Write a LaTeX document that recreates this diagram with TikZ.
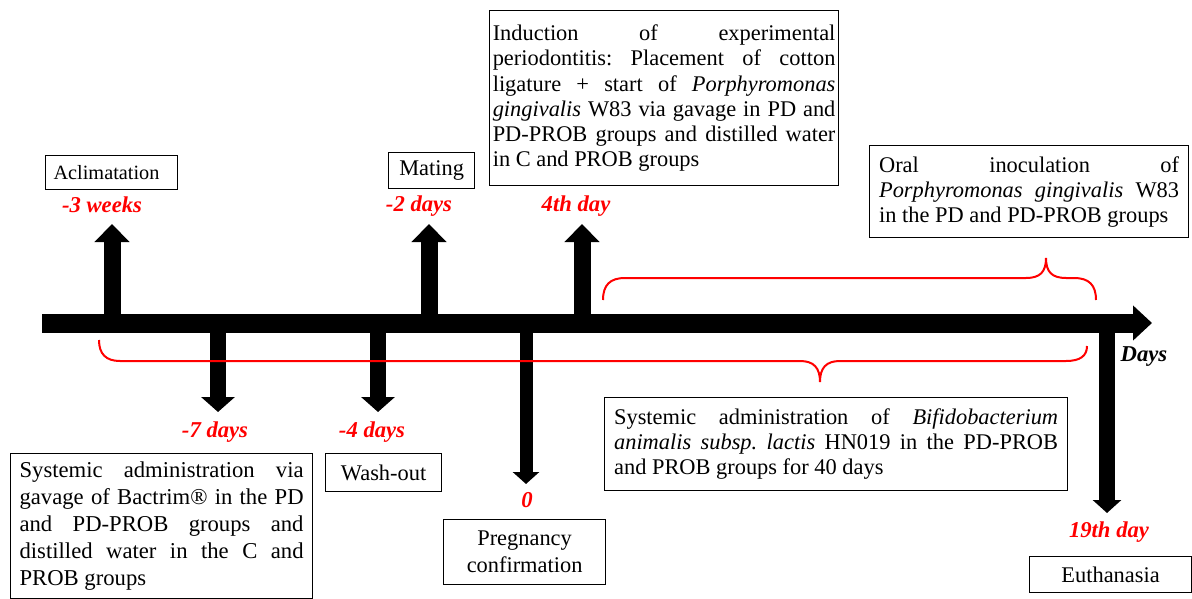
\documentclass[tikz,border=0pt]{standalone}
\usepackage{fontspec}
\setmainfont{Liberation Serif}
\usetikzlibrary{arrows.meta}
\frenchspacing
\pretolerance=10000
\tolerance=10000
\hbadness=10000

\begin{document}
\begin{tikzpicture}[x=0.75pt, y=-0.75pt,
  box/.style={draw, line width=0.9pt, inner sep=0pt, anchor=north west, font=\fontsize{16.8}{18.8}\selectfont},
  when/.style={text=red, inner sep=0pt, font=\fontsize{17}{20}\selectfont\bfseries\itshape},
  uparrow/.style={line width=12.75pt, -{Triangle[width=25.5pt, length=13.5pt]}},
  downarrow/.style={line width=12.5pt, -{Triangle[width=24.75pt, length=11.25pt]}},
  brace/.style={red, line width=1.5pt},
]
\useasboundingbox (0,0) rectangle (1192,599);

% time axis
\coordinate (start) at (42,323);
\coordinate (end) at (1152,323);
\draw[line width=14.25pt, -{Triangle[width=25.5pt, length=14.25pt]}] (start) -- (end);
\node[inner sep=0pt, font=\fontsize{17}{20}\selectfont\bfseries\itshape] (days) at (1144,357) {Days};

% events above the axis
\coordinate (acl) at (112,323);
\coordinate (acltip) at (112,224);
\coordinate (mat) at (429,323);
\coordinate (mattip) at (429,224);
\coordinate (ind) at (582,323);
\coordinate (indtip) at (582,224);
\draw[uparrow] (acl) -- (acltip);
\draw[uparrow] (mat) -- (mattip);
\draw[uparrow] (ind) -- (indtip);

\node[when] (weeks3) at (102,205) {-3 weeks};
\node[when] (days2) at (419,206) {-2 days};
\node[when] (day4) at (576,206) {4th day};

\node[box, minimum width=99pt, minimum height=25.5pt, text width=87pt, align=left,
  font=\fontsize{15.2}{17}\selectfont] (aclimatation) at (45,155) {Aclimatation};
\node[box, minimum width=64.5pt, minimum height=27pt, align=center] (mating) at (388,152) {Mating};
\node[box, minimum width=261.75pt, minimum height=131.25pt, text width=257pt, align=justify] (induction) at (489,10)
  {Induction of experimental\linebreak periodontitis: Placement of cotton\linebreak ligature + start of \textit{Porphyromonas}\linebreak \textit{gingivalis} W83 via gavage in PD and\linebreak PD-PROB groups and distilled water\linebreak in C and PROB groups};
\node[box, minimum width=239.25pt, minimum height=69pt, text width=225pt, align=justify] (inoculation) at (869,145)
  {Oral inoculation of\linebreak \textit{Porphyromonas gingivalis} W83\linebreak in the PD and PD-PROB groups};

% events below the axis
\coordinate (bac) at (218,323);
\coordinate (bactip) at (218,412);
\coordinate (was) at (378,323);
\coordinate (wastip) at (378,412);
\coordinate (pre) at (526,323);
\coordinate (pretip) at (526,484);
\coordinate (eut) at (1107,323);
\coordinate (euttip) at (1107,513);
\draw[downarrow] (bac) -- (bactip);
\draw[downarrow] (was) -- (wastip);
\draw[line width=9.75pt, -{Triangle[width=19.5pt, length=9pt]}] (pre) -- (pretip);
\draw[line width=12pt, -{Triangle[width=21pt, length=9.75pt]}] (eut) -- (euttip);

\node[when] (days7) at (215,432) {-7 days};
\node[when] (days4) at (372,432) {-4 days};
\node[when] (zero) at (527,500) {0};
\node[when] (day19) at (1109,532) {19th day};

\node[box, minimum width=226.5pt, minimum height=109pt, text width=213pt, align=justify,
  font=\fontsize{17}{20.3}\selectfont] (bactrim) at (10,453)
  {Systemic administration via\linebreak gavage of Bactrim® in the PD\linebreak and PD-PROB groups and\linebreak distilled water in the C and\linebreak PROB groups};
\node[box, minimum width=87pt, minimum height=28.5pt, align=center] (washout) at (325,453) {Wash-out};
\node[box, minimum width=121.5pt, minimum height=48.75pt, align=center,
  font=\fontsize{16.8}{20.2}\selectfont] (pregnancy) at (443,519) {Pregnancy\\confirmation};
\node[box, minimum width=347.25pt, minimum height=69.75pt, text width=333pt, align=justify] (probiotic) at (604,397)
  {Systemic administration of \textit{Bifidobacterium}\linebreak \textit{animalis subsp.\ lactis} HN019 in the PD-PROB\linebreak and PROB groups for 40 days};
\node[box, minimum width=121.5pt, minimum height=27pt, align=center] (euthanasia) at (1029,556) {Euthanasia};

% braces
\draw[brace] (603,300) .. controls (603,285) and (610,278) .. (625,278) -- (1026,278)
  .. controls (1040,278) and (1046,272) .. (1046,258)
  .. controls (1046,272) and (1052,278) .. (1066,278) -- (1074,278)
  .. controls (1089,278) and (1096,285) .. (1096,300);
\draw[brace] (99,340) .. controls (99,354) and (106,361) .. (120,361) -- (800,361)
  .. controls (814,361) and (820,368) .. (820,382)
  .. controls (820,368) and (826,361) .. (840,361) -- (1066,361)
  .. controls (1080,361) and (1087,356) .. (1087,346);

\end{tikzpicture}
\end{document}
